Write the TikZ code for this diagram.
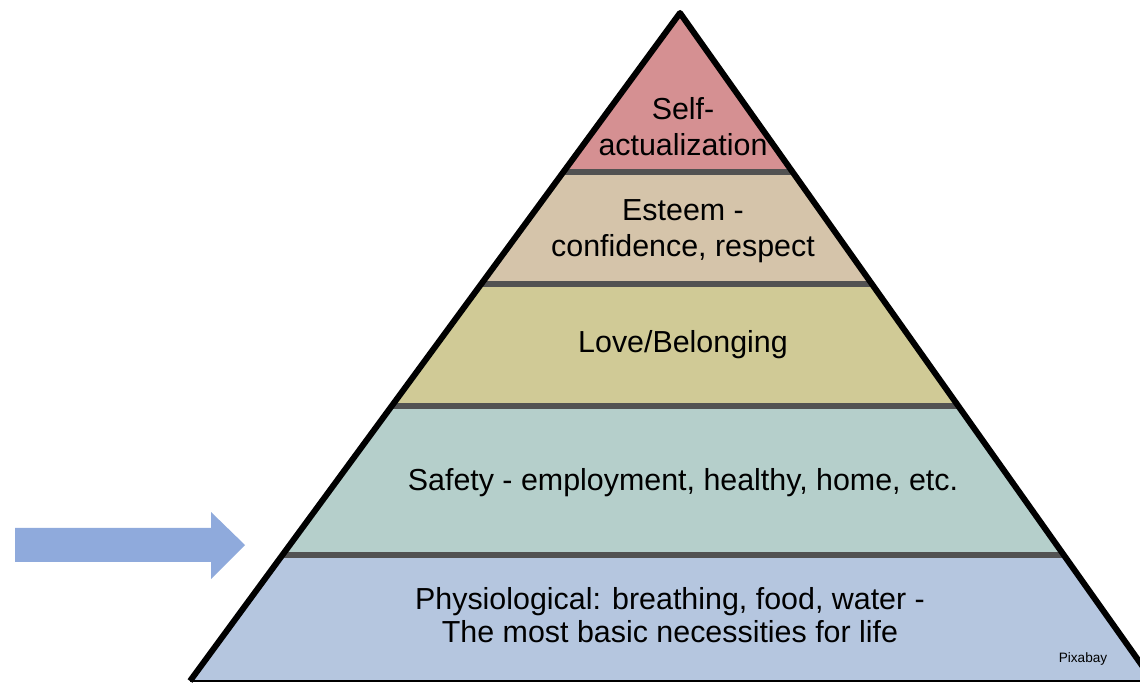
\documentclass[tikz,border=0pt]{standalone}
\usepackage{fontspec}
\setmainfont{Liberation Sans}
\definecolor{selfc}{RGB}{213,144,146}
\definecolor{esteemc}{RGB}{213,196,170}
\definecolor{lovec}{RGB}{208,202,150}
\definecolor{safetyc}{RGB}{181,207,203}
\definecolor{physc}{RGB}{181,198,223}
\definecolor{divgray}{RGB}{82,82,82}
\definecolor{arrowc}{RGB}{143,170,220}
\begin{document}
\begin{tikzpicture}[x=0.5pt,y=-0.5pt,
  lbl/.style={font=\fontsize{15.2}{18}\selectfont, align=center, text=black, inner sep=0pt},
  divider/.style={draw=divgray, line width=2.8pt},
  outline/.style={draw=black, line width=3pt, line join=round}]
\useasboundingbox (0,0) rectangle (1140,683);
\clip (0,0) rectangle (1140,683);
\coordinate (apex) at (680,13);
\coordinate (bl) at (190,681);
\coordinate (br) at (1153,681);
\begin{scope}
  \clip (apex) -- (bl) -- (br) -- cycle;
  \fill[selfc]   (0,0)   rectangle (1140,172);
  \fill[esteemc] (0,172) rectangle (1140,284);
  \fill[lovec]   (0,284) rectangle (1140,406);
  \fill[safetyc] (0,406) rectangle (1140,555);
  \fill[physc]   (0,555) rectangle (1140,683);
  \draw[divider] (0,172) -- (1140,172);
  \draw[divider] (0,284) -- (1140,284);
  \draw[divider] (0,406) -- (1140,406);
  \draw[divider] (0,555) -- (1140,555);
\end{scope}
\draw[outline] (bl) -- (apex) -- (br);
\draw[black, line width=1pt] (bl) -- (br);
% arrow
\fill[arrowc] (15,528) -- (211,528) -- (211,512) -- (245,545) -- (211,579) -- (211,562) -- (15,562) -- cycle;
% labels
\node[lbl] (self) at (683,127) {Self-\\actualization};
\node[lbl] (esteem) at (683,231) {Esteem -\\confidence, respect};
\node[lbl] (love) at (683,345) {Love/Belonging};
\node[lbl] (safety) at (683,483) {Safety - employment, healthy, home, etc.};
\node[lbl, font=\fontsize{15.2}{16.5}\selectfont] (phys) at (670,615) {Physiological: breathing, food, water -\\The most basic necessities for life};
\node[inner sep=0pt, font=\fontsize{6.8}{8}\selectfont] (credit) at (1083,659) {Pixabay};
\end{tikzpicture}
\end{document}
